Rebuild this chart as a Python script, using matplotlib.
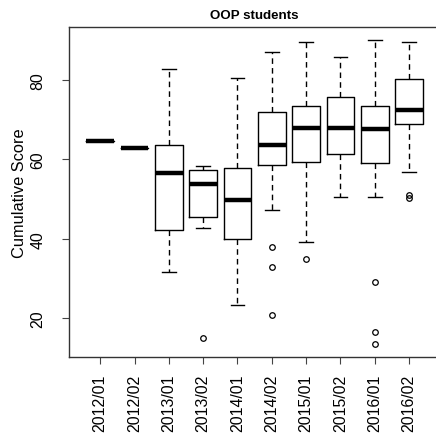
import matplotlib
matplotlib.use("Agg")
import matplotlib.pyplot as plt

plt.rcParams['font.family'] = ['Liberation Sans', 'DejaVu Sans']

categories = ["2012/01", "2012/02", "2013/01", "2013/02", "2014/01",
              "2014/02", "2015/01", "2015/02", "2016/01", "2016/02"]
whislo = [64.7, 62.8, 31.7, 42.6, 23.3, 47.2, 39.2, 50.5, 50.5, 56.7]
q1     = [64.7, 62.8, 42.1, 45.4, 39.95, 58.5, 59.2, 61.3, 59.1, 68.8]
med    = [64.7, 62.8, 56.55, 53.8, 49.8, 63.6, 67.9, 67.9, 67.7, 72.5]
q3     = [64.7, 62.8, 63.6, 57.4, 57.7, 72.0, 73.5, 75.6, 73.3, 80.2]
whishi = [64.7, 62.8, 82.7, 58.4, 80.45, 87.1, 89.4, 85.7, 90.1, 89.6]
fliers = [[], [], [], [15.0], [], [37.9, 32.9, 20.8], [34.8], [],
          [29.0, 16.4, 13.5], [51.0, 50.2]]
yticks = [20, 40, 60, 80]

stats = []
for i, c in enumerate(categories):
    stats.append(dict(label=c, whislo=whislo[i], q1=q1[i], med=med[i],
                      q3=q3[i], whishi=whishi[i], fliers=fliers[i]))

fig = plt.figure(figsize=(4.36, 4.39), dpi=100)
ax = fig.add_axes([69.3/436, 81.3/439, 370.7/436, 329.4/439])

ax.bxp(stats, positions=range(1, 11), widths=0.8, showcaps=True,
       boxprops=dict(color='black', linewidth=1.0),
       medianprops=dict(color='black', linewidth=3.2, solid_capstyle='butt'),
       whiskerprops=dict(color='black', linewidth=1.0, linestyle=(0, (4, 3))),
       capprops=dict(color='black', linewidth=1.0),
       capwidths=0.4,
       flierprops=dict(marker='o', markerfacecolor='none', markeredgecolor='black',
                       markersize=4, markeredgewidth=0.9))

ax.set_xlim(0.1, 10.9)
ax.set_ylim(10.3, 93.2)
ax.set_xticks(range(1, 11))
ax.set_xticklabels(categories, rotation=90, fontsize=11.4)
ax.set_yticks(yticks)
ax.set_yticklabels([str(v) for v in yticks], rotation=90, va='center', fontsize=11.4)
ax.tick_params(axis='both', length=5, width=0.8, color='#444444')
ax.tick_params(axis='x', pad=7)
ax.tick_params(axis='y', pad=12)
for s in ax.spines.values():
    s.set_linewidth(1.0)
    s.set_color('#333333')

ax.set_ylabel("Cumulative Score", fontsize=11.8)
ax.yaxis.set_label_coords(-0.114, 0.5)
ax.set_title("OOP students", fontsize=9.6, fontweight='bold', pad=6.5)

fig.savefig("out.png", dpi=100)
